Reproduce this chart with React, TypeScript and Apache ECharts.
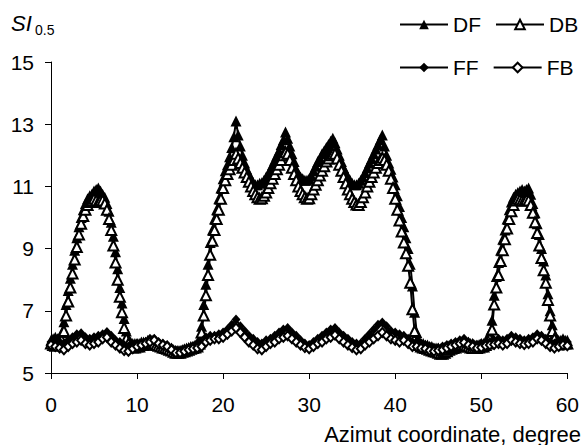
import React, { useEffect, useRef } from "react";
import * as echarts from "echarts";

// sampling grids (degrees)
const AZIMUTH_FINE: number[] = Array.from({ length: 241 }, (_, i) => i * 0.25);
const AZIMUTH_COARSE: number[] = Array.from({ length: 121 }, (_, i) => i * 0.5);

const DF = [
  6.05, 6.1, 6.15, 6.1, 6.15, 6.3, 6.65, 7.2, 7.65, 8.05, 8.5, 8.95, 9.35, 9.7, 10.0, 10.25, 10.45, 10.6, 10.7, 10.75,
  10.85, 10.9, 10.95, 10.85, 10.75, 10.65, 10.45, 10.2, 9.85, 9.4, 8.9, 8.35, 7.75, 7.25, 6.75, 6.35, 6.1, 6.0, 5.95, 5.95,
  5.95, 5.95, 6.0, 6.0, 6.0, 6.05, 6.05, 6.05, 6.05, 6.0, 5.95, 5.9, 5.9, 5.85, 5.85, 5.8, 5.8, 5.75, 5.72, 5.72,
  5.72, 5.75, 5.78, 5.8, 5.82, 5.85, 5.85, 5.9, 5.95, 6.1, 6.5, 7.2, 7.85, 8.5, 9.2, 9.6, 9.95, 10.25, 10.6, 10.95,
  11.25, 11.5, 11.7, 11.95, 12.25, 12.6, 13.1, 12.65, 12.3, 12.0, 11.75, 11.55, 11.4, 11.25, 11.12, 11.05, 11.05, 11.1, 11.12, 11.2,
  11.3, 11.4, 11.55, 11.7, 11.85, 12.0, 12.15, 12.35, 12.5, 12.75, 12.55, 12.3, 12.05, 11.8, 11.55, 11.4, 11.3, 11.25, 11.2, 11.2,
  11.25, 11.35, 11.5, 11.65, 11.8, 11.9, 12.05, 12.15, 12.25, 12.35, 12.45, 12.55, 12.4, 12.2, 12.0, 11.8, 11.6, 11.45, 11.3, 11.2,
  11.1, 11.05, 11.05, 11.1, 11.2, 11.3, 11.45, 11.6, 11.75, 11.9, 12.05, 12.2, 12.35, 12.5, 12.65, 12.3, 12.0, 11.75, 11.55, 11.3,
  11.05, 10.7, 10.35, 10.0, 9.7, 9.35, 9.0, 8.5, 7.8, 6.95, 6.3, 6.05, 5.95, 5.95, 5.9, 5.9, 5.85, 5.85, 5.8, 5.8,
  5.8, 5.78, 5.8, 5.82, 5.85, 5.88, 5.9, 5.92, 5.95, 5.95, 6.0, 6.0, 6.05, 6.0, 6.0, 5.95, 5.95, 5.9, 5.9, 5.92,
  5.95, 5.95, 6.0, 6.1, 6.3, 6.7, 7.5, 8.1, 8.55, 8.95, 9.3, 9.6, 9.95, 10.25, 10.5, 10.65, 10.75, 10.8, 10.85, 10.9,
  10.85, 10.9, 10.95, 10.75, 10.45, 10.15, 9.8, 9.45, 9.0, 8.6, 8.15, 7.55, 7.0, 6.55, 6.25, 6.1, 6.05, 6.05, 6.1, 6.05,
  6.05,
];

const DB = [
  5.95, 5.9, 5.88, 5.9, 5.95, 6.05, 6.35, 6.85, 7.3, 7.75, 8.2, 8.65, 9.05, 9.45, 9.8, 10.05, 10.25, 10.4, 10.5, 10.55,
  10.6, 10.55, 10.5, 10.55, 10.55, 10.45, 10.25, 9.95, 9.6, 9.1, 8.55, 8.0, 7.45, 6.95, 6.45, 6.1, 5.95, 5.85, 5.82, 5.82,
  5.85, 5.85, 5.9, 5.9, 5.92, 5.95, 5.95, 5.95, 5.95, 5.9, 5.88, 5.85, 5.82, 5.8, 5.78, 5.75, 5.72, 5.68, 5.65, 5.65,
  5.65, 5.68, 5.7, 5.72, 5.75, 5.78, 5.8, 5.82, 5.85, 5.95, 6.3, 6.85, 7.5, 8.15, 8.8, 9.25, 9.6, 9.95, 10.25, 10.6,
  10.95, 11.2, 11.4, 11.55, 11.7, 11.85, 12.05, 11.9, 11.75, 11.6, 11.45, 11.3, 11.15, 11.0, 10.85, 10.75, 10.65, 10.6, 10.62, 10.7,
  10.8, 10.95, 11.1, 11.25, 11.4, 11.55, 11.7, 11.85, 12.0, 12.1, 12.05, 11.85, 11.6, 11.4, 11.2, 11.0, 10.85, 10.75, 10.65, 10.6,
  10.62, 10.75, 10.9, 11.05, 11.2, 11.35, 11.5, 11.65, 11.8, 11.9, 12.0, 12.05, 12.05, 11.9, 11.7, 11.5, 11.3, 11.1, 10.9, 10.75,
  10.6, 10.5, 10.42, 10.4, 10.5, 10.65, 10.8, 11.0, 11.15, 11.3, 11.45, 11.6, 11.75, 11.85, 11.92, 11.85, 11.7, 11.5, 11.25, 10.95,
  10.6, 10.25, 9.9, 9.55, 9.2, 8.85, 8.45, 7.9, 7.05, 6.35, 6.0, 5.9, 5.85, 5.82, 5.8, 5.78, 5.75, 5.72, 5.7, 5.68,
  5.65, 5.62, 5.62, 5.65, 5.7, 5.75, 5.78, 5.8, 5.82, 5.85, 5.88, 5.9, 5.9, 5.88, 5.85, 5.82, 5.8, 5.8, 5.8, 5.82,
  5.85, 5.85, 5.9, 5.95, 6.1, 6.4, 7.2, 7.75, 8.15, 8.6, 8.95, 9.3, 9.65, 9.95, 10.2, 10.4, 10.55, 10.6, 10.58, 10.55,
  10.55, 10.58, 10.55, 10.4, 10.15, 9.85, 9.5, 9.1, 8.7, 8.3, 7.9, 7.35, 6.85, 6.35, 6.1, 5.95, 5.92, 5.95, 6.0, 5.95,
  5.95,
];

const FF = [
  6.0, 6.1, 6.0, 5.95, 6.05, 6.15, 6.25, 6.28, 6.15, 6.1,
  6.15, 6.2, 6.25, 6.32, 6.2, 6.05, 6.0, 5.9, 5.85, 5.9,
  5.95, 5.95, 6.0, 6.1, 6.1, 6.0, 5.95, 5.9, 5.8, 5.72,
  5.7, 5.75, 5.8, 5.85, 5.9, 6.0, 6.15, 6.2, 6.2, 6.25,
  6.3, 6.4, 6.55, 6.72, 6.5, 6.35, 6.2, 6.1, 6.0, 5.95,
  6.05, 6.1, 6.2, 6.3, 6.4, 6.45, 6.3, 6.2, 6.05, 5.95,
  5.9, 6.0, 6.1, 6.2, 6.3, 6.4, 6.45, 6.3, 6.2, 6.1,
  6.0, 5.95, 5.95, 6.1, 6.25, 6.4, 6.55, 6.62, 6.5, 6.35,
  6.3, 6.25, 6.2, 6.1, 6.0, 5.95, 5.95, 5.9, 5.85, 5.8,
  5.8, 5.85, 5.9, 5.95, 6.0, 6.05, 6.1, 6.0, 5.95, 5.9,
  5.95, 6.0, 6.0, 6.05, 6.1, 6.05, 6.1, 6.2, 6.15, 6.1,
  6.05, 6.1, 6.15, 6.25, 6.2, 6.1, 6.0, 5.95, 6.0, 6.05,
  6.0,
];

const FB = [
  5.9, 5.85, 5.8, 5.75, 5.85, 5.95, 6.0, 6.05, 5.95, 5.9,
  5.95, 6.0, 6.1, 6.15, 6.0, 5.9, 5.8, 5.72, 5.7, 5.78,
  5.85, 5.9, 5.95, 6.0, 6.05, 5.95, 5.9, 5.85, 5.75, 5.65,
  5.65, 5.7, 5.75, 5.78, 5.8, 5.85, 6.0, 6.05, 6.1, 6.1,
  6.15, 6.25, 6.35, 6.45, 6.3, 6.15, 6.0, 5.9, 5.78, 5.75,
  5.85, 5.95, 6.0, 6.1, 6.15, 6.2, 6.1, 6.0, 5.9, 5.82,
  5.78, 5.85, 5.95, 6.0, 6.1, 6.15, 6.22, 6.1, 6.0, 5.9,
  5.82, 5.75, 5.78, 5.9, 6.0, 6.1, 6.2, 6.3, 6.2, 6.1,
  6.05, 6.0, 6.05, 5.95, 5.85, 5.85, 5.8, 5.78, 5.72, 5.7,
  5.72, 5.75, 5.8, 5.85, 5.9, 5.95, 5.98, 5.9, 5.85, 5.8,
  5.82, 5.88, 5.9, 5.92, 5.95, 5.9, 5.95, 6.05, 6.0, 5.95,
  5.92, 5.95, 6.0, 6.1, 6.05, 5.95, 5.85, 5.8, 5.85, 5.9,
  5.88,
];

const X_TICKS = [0, 10, 20, 30, 40, 50, 60];
const Y_TICKS = [5, 7, 9, 11, 13, 15];
const X_TITLE = "Azimut coordinate, degree";
const Y_TITLE = "SI";
const Y_TITLE_SUB = "0.5";

const FONT = "'Liberation Sans', Arial, sans-serif";

export default function App() {
  const ref = useRef<HTMLDivElement>(null);

  useEffect(() => {
    const chart = echarts.init(ref.current!, null, { renderer: "svg" });
    const pair = (xs: number[], ys: number[]) => ys.map((y, i) => [xs[i], y]);
    const mk = (name: string, xs: number[], ys: number[], symbol: string, size: number[]) => ({
      type: "line",
      name,
      data: pair(xs, ys),
      symbol,
      symbolSize: size,
      showSymbol: true,
      showAllSymbol: true,
      lineStyle: { color: "#000", width: 2 },
      itemStyle: { color: "#000", borderWidth: 2 },
      emphasis: { disabled: true },
      silent: true,
    });

    const legendBase = {
      left: 399,
      padding: 0,
      orient: "horizontal",
      itemWidth: 48,
      itemHeight: 12,
      itemGap: 14,
      selectedMode: false,
      textStyle: { fontSize: 21, fontFamily: FONT, color: "#000" },
    };

    chart.setOption({
      animation: false,
      backgroundColor: "#fff",
      grid: { left: 51, top: 62, right: 13, bottom: 72, containLabel: false },
      xAxis: {
        type: "value",
        min: 0,
        max: 60,
        interval: 10,
        axisLine: { show: true, lineStyle: { color: "#000", width: 1 } },
        axisTick: { show: true, inside: false, length: 6, lineStyle: { color: "#000" }, customValues: X_TICKS },
        axisLabel: { fontSize: 21, fontFamily: FONT, color: "#000", margin: 21, customValues: X_TICKS },
        splitLine: { show: false },
      },
      yAxis: {
        type: "value",
        min: 5,
        max: 15,
        axisLine: { show: true, lineStyle: { color: "#000", width: 1 } },
        axisTick: { show: true, inside: false, length: 6, lineStyle: { color: "#000" }, customValues: Y_TICKS },
        axisLabel: { fontSize: 21, fontFamily: FONT, color: "#000", margin: 17, customValues: Y_TICKS },
        splitLine: { show: false },
      },
      legend: [
        { ...legendBase, top: 14, data: ["DF", "DB"] },
        { ...legendBase, top: 57, data: ["FF", "FB"] },
      ],
      graphic: [
        {
          type: "text",
          x: 11,
          y: 23,
          style: { text: Y_TITLE, font: `italic 22px ${FONT}`, fill: "#000", verticalAlign: "middle" },
        },
        {
          type: "text",
          x: 35,
          y: 29.5,
          style: { text: Y_TITLE_SUB, font: `14px ${FONT}`, fill: "#000", verticalAlign: "middle" },
        },
        {
          type: "text",
          x: 581,
          y: 434,
          style: { text: X_TITLE, font: `22px ${FONT}`, fill: "#000", align: "right", verticalAlign: "middle" },
        },
      ],
      series: [
        mk("DF", AZIMUTH_FINE, DF, "triangle", [11, 11]),
        mk("DB", AZIMUTH_FINE, DB, "emptyTriangle", [10, 10]),
        mk("FF", AZIMUTH_COARSE, FF, "diamond", [9, 10]),
        mk("FB", AZIMUTH_COARSE, FB, "emptyDiamond", [8, 9]),
      ],
    });
    return () => chart.dispose();
  }, []);

  return <div ref={ref} style={{ position: "absolute", left: 0, top: 0, width: 582, height: 445 }} />;
}
